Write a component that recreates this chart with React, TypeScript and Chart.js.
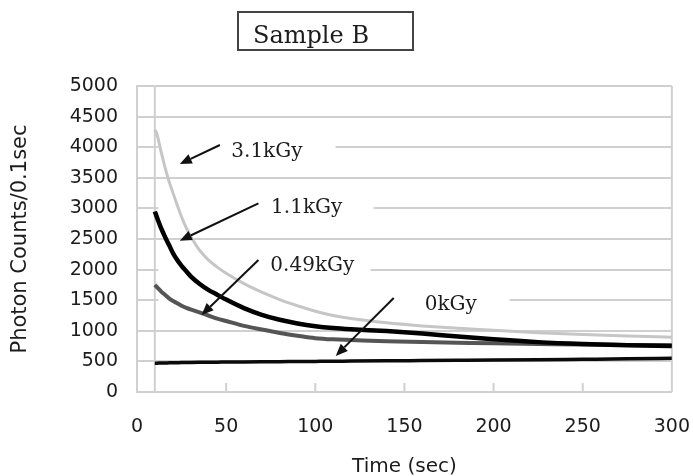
import React, { useEffect, useRef } from 'react';
import { Chart, registerables } from 'chart.js';

Chart.register(...registerables);

// ---- data ----
const TIME = [10, 11, 12, 13, 14, 15, 16, 18, 20, 22, 25, 28, 30, 35, 40, 45, 50, 60, 70, 80, 90, 100, 110, 120, 140, 160, 180, 200, 225, 250, 275, 300];
const DOSE_3_1 = [4280, 4230, 4120, 3990, 3870, 3750, 3640, 3440, 3270, 3100, 2860, 2660, 2550, 2320, 2160, 2040, 1940, 1770, 1630, 1510, 1410, 1320, 1250, 1200, 1130, 1080, 1040, 1010, 970, 940, 915, 895];
const DOSE_1_1 = [2950, 2870, 2790, 2715, 2645, 2580, 2515, 2400, 2280, 2180, 2060, 1960, 1895, 1770, 1670, 1590, 1510, 1370, 1260, 1180, 1120, 1075, 1045, 1025, 995, 955, 905, 860, 815, 785, 765, 750];
const DOSE_0_49 = [1750, 1720, 1690, 1660, 1630, 1605, 1580, 1530, 1490, 1460, 1410, 1370, 1350, 1300, 1250, 1200, 1160, 1080, 1020, 965, 920, 880, 860, 850, 830, 815, 805, 795, 785, 775, 770, 765];
const DOSE_0 = [470, 470, 472, 472, 474, 474, 475, 476, 478, 479, 480, 482, 483, 485, 487, 488, 490, 492, 494, 496, 498, 500, 502, 505, 510, 514, 518, 522, 528, 535, 542, 552];

const SERIES_LABELS = ['3.1kGy', '1.1kGy', '0.49kGy', '0kGy'];
const X_MIN = 0;
const X_MAX = 300;
const X_STEP = 50;
const Y_MIN = 0;
const Y_MAX = 5000;
const Y_STEP = 500;
const CROSS_X = 10;
const TITLE = 'Sample B';
const X_TITLE = 'Time (sec)';
const Y_TITLE = 'Photon Counts/0.1sec';

// annotation placement (data coordinates)
const ANNOTATIONS = [
  { text: SERIES_LABELS[0], tx: 52.9, ty: 3840, from: [46.5, 4036], to: [24.0, 3725], mask: [12, 111.4], grid: 4000 },
  { text: SERIES_LABELS[1], tx: 75.2, ty: 2920, from: [68.1, 3083], to: [24.0, 2473], mask: [12, 132.7], grid: 3000 },
  { text: SERIES_LABELS[2], tx: 74.8, ty: 1977, from: [68.1, 2157], to: [36.2, 1258], mask: [12, 131], grid: 2000 },
  { text: SERIES_LABELS[3], tx: 161.4, ty: 1340, from: [144, 1536], to: [111.5, 590], mask: [12, 209], grid: 1500 },
];

const GRID_COLOR = '#d0d0d0';
const TEXT_COLOR = '#1c1c1c';

const toPoints = (ys: number[]) => TIME.map((t, i) => ({ x: t, y: ys[i] }));

const annotationPlugin = {
  id: 'sampleAnnotations',
  beforeDatasetsDraw(chart: any) {
    const { ctx, chartArea, scales } = chart;
    const xs = scales.x;
    const ys = scales.y;
    ctx.save();
    ctx.fillStyle = '#ffffff';
    for (const a of ANNOTATIONS) {
      const x0 = xs.getPixelForValue(a.mask[0]);
      const x1 = xs.getPixelForValue(a.mask[1]);
      const y0 = ys.getPixelForValue(a.grid + Y_STEP / 2);
      const y1 = ys.getPixelForValue(a.grid - Y_STEP / 2);
      ctx.fillRect(x0, y0 + 2, x1 - x0, y1 - y0 - 4);
    }
    ctx.strokeStyle = GRID_COLOR;
    ctx.lineWidth = 2;
    ctx.beginPath();
    ctx.moveTo(chartArea.right, chartArea.top);
    ctx.lineTo(chartArea.right, chartArea.bottom);
    const xc = xs.getPixelForValue(CROSS_X);
    ctx.moveTo(xc, chartArea.top);
    ctx.lineTo(xc, chartArea.bottom);
    ctx.stroke();
    // inside tick marks on x axis
    ctx.beginPath();
    for (let v = X_MIN + X_STEP; v < X_MAX; v += X_STEP) {
      const px = xs.getPixelForValue(v);
      ctx.moveTo(px, chartArea.bottom);
      ctx.lineTo(px, chartArea.bottom - 9);
    }
    ctx.stroke();
    ctx.restore();
  },
  afterDatasetsDraw(chart: any) {
    const { ctx, scales } = chart;
    const xs = scales.x;
    const ys = scales.y;
    ctx.save();
    ctx.strokeStyle = '#111';
    ctx.fillStyle = '#111';
    ctx.lineWidth = 2;
    for (const a of ANNOTATIONS) {
      const fx = xs.getPixelForValue(a.from[0]);
      const fy = ys.getPixelForValue(a.from[1]);
      const tx = xs.getPixelForValue(a.to[0]);
      const ty = ys.getPixelForValue(a.to[1]);
      const ang = Math.atan2(ty - fy, tx - fx);
      const head = 12;
      const half = 5;
      const bx = tx - head * Math.cos(ang);
      const by = ty - head * Math.sin(ang);
      ctx.beginPath();
      ctx.moveTo(fx, fy);
      ctx.lineTo(bx, by);
      ctx.stroke();
      ctx.beginPath();
      ctx.moveTo(tx, ty);
      ctx.lineTo(bx + half * Math.sin(ang), by - half * Math.cos(ang));
      ctx.lineTo(bx - half * Math.sin(ang), by + half * Math.cos(ang));
      ctx.closePath();
      ctx.fill();
    }
    ctx.fillStyle = TEXT_COLOR;
    ctx.font = '20px "DejaVu Serif"';
    ctx.textAlign = 'left';
    ctx.textBaseline = 'alphabetic';
    for (const a of ANNOTATIONS) {
      ctx.fillText(a.text, xs.getPixelForValue(a.tx), ys.getPixelForValue(a.ty));
    }
    ctx.restore();
  },
  afterDraw(chart: any) {
    const { ctx } = chart;
    ctx.save();
    ctx.strokeStyle = '#444';
    ctx.lineWidth = 2;
    ctx.strokeRect(238, 12, 175, 38);
    ctx.fillStyle = TEXT_COLOR;
    ctx.font = '24px "DejaVu Serif"';
    ctx.textAlign = 'left';
    ctx.textBaseline = 'alphabetic';
    ctx.fillText(TITLE, 253, 43);
    ctx.restore();
  },
};

export default function App() {
  const ref = useRef<HTMLCanvasElement | null>(null);
  useEffect(() => {
    document.body.style.margin = '0';
    if (!ref.current) return;
    const chart = new Chart(ref.current, {
      type: 'line',
      data: {
        datasets: [
          { label: SERIES_LABELS[3], data: toPoints(DOSE_0), borderColor: '#0a0a0a', borderWidth: 3.5, order: 1 },
          { label: SERIES_LABELS[1], data: toPoints(DOSE_1_1), borderColor: '#000000', borderWidth: 4.5, order: 2 },
          { label: SERIES_LABELS[2], data: toPoints(DOSE_0_49), borderColor: '#555555', borderWidth: 4, order: 3 },
          { label: SERIES_LABELS[0], data: toPoints(DOSE_3_1), borderColor: '#c6c6c6', borderWidth: 3, order: 4 },
        ],
      },
      options: {
        animation: false,
        responsive: false,
        devicePixelRatio: 1,
        layout: { padding: { left: 0, right: 21, top: 86, bottom: 0 } },
        elements: {
          point: { radius: 0 },
          line: { cubicInterpolationMode: 'monotone', fill: false },
        },
        plugins: {
          legend: { display: false },
          tooltip: { enabled: false },
          title: { display: false },
        },
        scales: {
          x: {
            type: 'linear',
            min: X_MIN,
            max: X_MAX,
            afterFit: (s: any) => { s.height = 84; },
            ticks: {
              stepSize: X_STEP,
              padding: 3,
              color: TEXT_COLOR,
              font: { family: 'DejaVu Sans', size: 19 },
              callback: (v: any) => String(v),
              maxRotation: 0,
            },
            grid: {
              display: true,
              drawOnChartArea: false,
              drawTicks: true,
              tickLength: 21,
              color: 'rgba(0,0,0,0)',
            },
            border: { display: true, color: GRID_COLOR, width: 2 },
            title: {
              display: true,
              text: X_TITLE,
              color: TEXT_COLOR,
              font: { family: 'DejaVu Sans', size: 20 },
              padding: { top: 0, bottom: -3 },
            },
          },
          y: {
            type: 'linear',
            min: Y_MIN,
            max: Y_MAX,
            afterFit: (s: any) => { s.width = 137; },
            ticks: {
              stepSize: Y_STEP,
              padding: 19,
              color: TEXT_COLOR,
              font: { family: 'DejaVu Sans', size: 19 },
              callback: (v: any) => String(v),
            },
            grid: { color: GRID_COLOR, lineWidth: 2, drawTicks: false },
            border: { display: true, color: GRID_COLOR, width: 2 },
            title: {
              display: true,
              text: Y_TITLE,
              color: TEXT_COLOR,
              font: { family: 'DejaVu Sans', size: 21 },
              padding: { top: 8, bottom: 0 },
            },
          },
        },
      },
      plugins: [annotationPlugin],
    } as any);
    return () => chart.destroy();
  }, []);
  return (
    <div style={{ width: 693, height: 476 }}>
      <canvas ref={ref} width={693} height={476} style={{ display: 'block' }} />
    </div>
  );
}
